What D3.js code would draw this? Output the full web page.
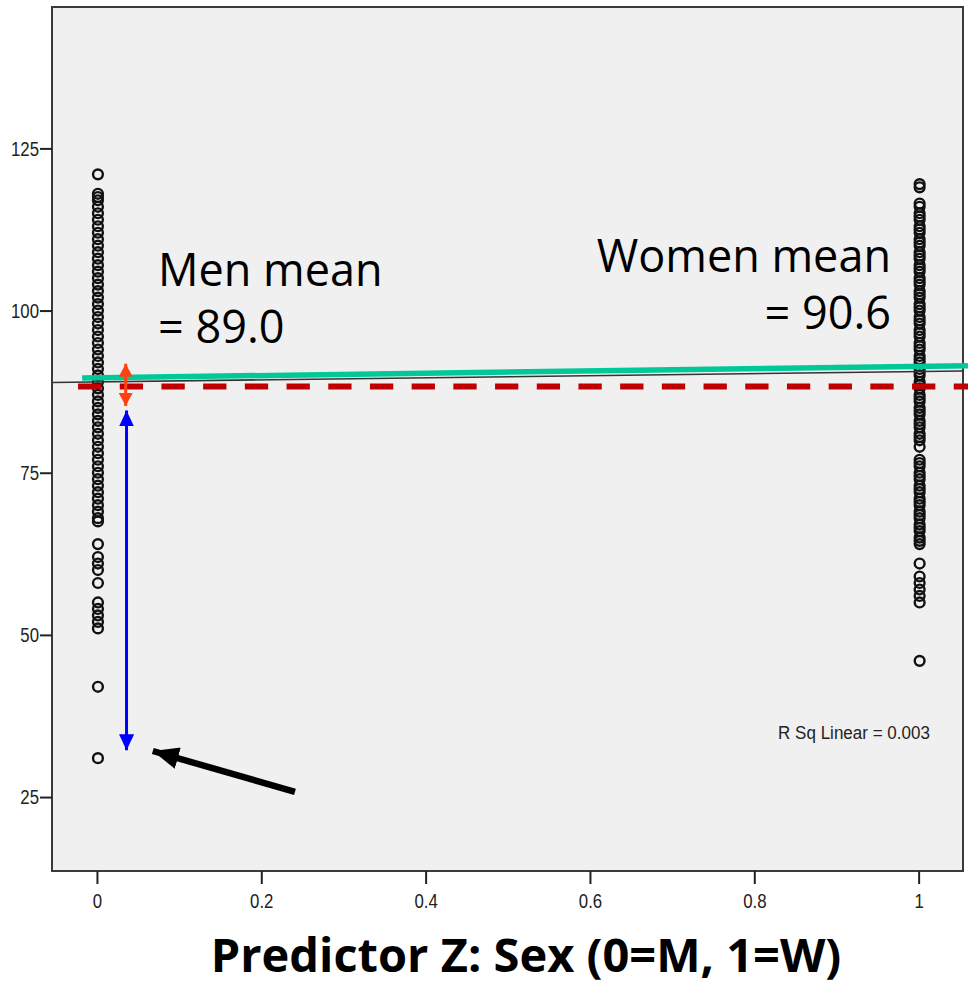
<!DOCTYPE html>
<html>
<head>
<meta charset="utf-8">
<script src="https://cdn.jsdelivr.net/npm/d3@7"></script>
<style>
  body { margin: 0; background: #fff; }
  svg { display: block; }
</style>
</head>
<body>
<svg id="chart"></svg>
<script>
// scatter values (Sex: 0 = men, 1 = women)
const menScores = [121, 118, 117.5, 117, 116, 115, 114, 113, 112, 111, 110, 109, 108, 107, 106,
  105, 104, 103, 102, 101, 100, 99, 98, 97, 96, 95, 94, 93, 92, 91, 90, 89, 88, 87, 86, 85, 84,
  83, 82, 81, 80, 79, 78, 77, 76, 75, 74, 73, 72, 71, 70, 69, 68, 67.5, 64, 62, 61, 60, 58, 55,
  54, 53, 52, 51, 42, 31];
const womenScores = [119.5, 119, 116.5, 116, 115, 114.5, 114, 113, 112.5, 112, 111, 110.5, 110,
  109, 108.5, 108, 107, 106.5, 106, 105, 104.5, 104, 103, 102.5, 102, 101, 100.5, 100, 99,
  98.5, 98, 97, 96.5, 96, 95, 94.5, 94, 93, 92.5, 92, 91, 90.5, 90, 89, 88.5, 88, 87, 86.5, 86,
  85, 84.5, 84, 83, 82.5, 82, 81, 80.5, 80, 79, 77, 76.5, 76, 75, 74.5, 74, 73, 72.5, 72, 71,
  70.5, 70, 69, 68.5, 68, 67, 66.5, 66, 65, 64.5, 64, 61, 59, 58, 57, 56, 55, 46];
const xTicks = [0, 0.2, 0.4, 0.6, 0.8, 1];
const yTicks = [25, 50, 75, 100, 125];
const groupMeans = [89.0, 90.6];      // fit line at x = 0 and x = 1
const grandMean = 88.3;               // red dashed line
const meanLine = [[-0.018, 89.6], [1.06, 91.5]];   // green hand-drawn line
const rSquared = "R Sq Linear = 0.003";
const xTitle = "Predictor Z: Sex (0=M, 1=W)";

const svgWidth = 968, svgHeight = 987;
const plot = {left: 52, right: 963, top: 7, bottom: 871};
const narrowFont = "'Liberation Sans Narrow', 'Arial Narrow', 'Liberation Sans', sans-serif";

const chart = d3.select('#chart')
    .attr("width", svgWidth)
    .attr("height", svgHeight);

var xScale = d3.scaleLinear().domain([-0.0547, 1.054]).range([plot.left, plot.right]);
var yScale = d3.scaleLinear().domain([13.6, 146.8]).range([plot.bottom, plot.top]);

// arrow heads
const defs = chart.append("defs");
function marker(id, color, w, h) {
    defs.append("marker")
        .attr("id", id)
        .attr("markerUnits", "userSpaceOnUse")
        .attr("viewBox", `0 0 ${h} ${w}`)
        .attr("refX", h).attr("refY", w / 2)
        .attr("markerWidth", h).attr("markerHeight", w)
        .attr("orient", "auto-start-reverse")
        .append("path")
        .attr("d", `M0,0 L${h},${w / 2} L0,${w} Z`)
        .attr("fill", color);
}
marker("headOrange", "#ff4010", 14, 13);
marker("headBlue", "#0000ff", 15, 16);
marker("headBlack", "#000", 22, 26);

// plot background + frame
chart.append("rect")
    .attr("x", plot.left).attr("y", plot.top)
    .attr("width", plot.right - plot.left).attr("height", plot.bottom - plot.top)
    .attr("fill", "#f0f0f0")
    .attr("stroke", "#3a3a3a")
    .attr("stroke-width", 2);

// axes
var xAxis = d3.axisBottom(xScale).tickValues(xTicks).tickFormat(d3.format("")).tickSize(13).tickSizeOuter(0);
var yAxis = d3.axisLeft(yScale).tickValues(yTicks).tickSize(12).tickSizeOuter(0);

const gx = chart.append("g")
    .attr("transform", `translate(0,${plot.bottom})`)
    .call(xAxis);
const gy = chart.append("g")
    .attr("transform", `translate(${plot.left},0)`)
    .call(yAxis);
[gx, gy].forEach(g => {
    g.select(".domain").remove();
    g.selectAll(".tick line").attr("stroke", "#222").attr("stroke-width", 2);
    g.selectAll(".tick text")
        .attr("fill", "#222")
        .style("font-family", narrowFont)
        .style("font-size", "21px");
});
gx.selectAll(".tick text").attr("y", 0).attr("dy", "0.32em")
    .attr("transform", "translate(0,30) scale(0.8,1)");
gy.selectAll(".tick text").attr("x", 0)
    .attr("transform", "translate(-13,0) scale(0.8,1)");

// points
const pts = chart.append("g");
[[0, menScores], [1, womenScores]].forEach(([sex, vals]) => {
    pts.selectAll(null)
        .data(vals)
        .enter().append("circle")
        .attr("cx", xScale(sex) + 1)
        .attr("cy", d => yScale(d))
        .attr("r", 4.9)
        .attr("fill", "none")
        .attr("stroke", "#111")
        .attr("stroke-width", 2.4);
});

// linear fit through the group means
const fit = d3.scaleLinear().domain([0, 1]).range(groupMeans);
chart.append("line")
    .attr("x1", plot.left).attr("y1", yScale(fit(xScale.invert(plot.left))))
    .attr("x2", plot.right).attr("y2", yScale(fit(xScale.invert(plot.right))))
    .attr("stroke", "#333")
    .attr("stroke-width", 1.6);

// grand mean (red dashed)
chart.append("line")
    .attr("x1", xScale(-0.023)).attr("x2", svgWidth)
    .attr("y1", yScale(grandMean)).attr("y2", yScale(grandMean))
    .attr("stroke", "#c00000")
    .attr("stroke-width", 6)
    .attr("stroke-dasharray", "23.3 18.4");

// green line
chart.append("line")
    .attr("x1", xScale(meanLine[0][0])).attr("y1", yScale(meanLine[0][1]))
    .attr("x2", xScale(meanLine[1][0])).attr("y2", yScale(meanLine[1][1]))
    .attr("stroke", "#00c896")
    .attr("stroke-width", 5.5);

// double arrows
chart.append("line")
    .attr("x1", xScale(0.035)).attr("x2", xScale(0.035))
    .attr("y1", yScale(91.8)).attr("y2", yScale(85.3))
    .attr("stroke", "#ff4010").attr("stroke-width", 3)
    .attr("marker-start", "url(#headOrange)")
    .attr("marker-end", "url(#headOrange)");
chart.append("line")
    .attr("x1", xScale(0.036)).attr("x2", xScale(0.036))
    .attr("y1", yScale(84.6)).attr("y2", yScale(32.2))
    .attr("stroke", "#0000ff").attr("stroke-width", 3)
    .attr("marker-start", "url(#headBlue)")
    .attr("marker-end", "url(#headBlue)");

// black pointer arrow
chart.append("line")
    .attr("x1", xScale(0.241)).attr("y1", yScale(25.8))
    .attr("x2", xScale(0.068)).attr("y2", yScale(32.1))
    .attr("stroke", "#000").attr("stroke-width", 6.5)
    .attr("marker-end", "url(#headBlack)");

// annotations
const annFont = "'Open Sans', 'Noto Sans', sans-serif";
function note(txt, x, y, anchor, size, weight) {
    chart.append("text")
        .attr("x", x).attr("y", y)
        .attr("text-anchor", anchor)
        .style("font-family", annFont)
        .style("font-size", size + "px")
        .style("font-weight", weight || "normal")
        .attr("fill", "#000")
        .text(txt);
}
note("Men mean", 158, 286, "start", 45);
note("= 89.0", 158, 343, "start", 45);
note("Women mean", 891, 272, "end", 45);
note("= 90.6", 891, 329, "end", 45);
note(xTitle, 526, 972, "middle", 47, "bold");

chart.append("text")
    .attr("x", 0).attr("y", 0)
    .attr("text-anchor", "middle")
    .attr("transform", "translate(854,739) scale(0.92,1)")
    .style("font-family", narrowFont)
    .style("font-size", "18.5px")
    .attr("fill", "#222")
    .text(rSquared);
</script>
</body>
</html>
